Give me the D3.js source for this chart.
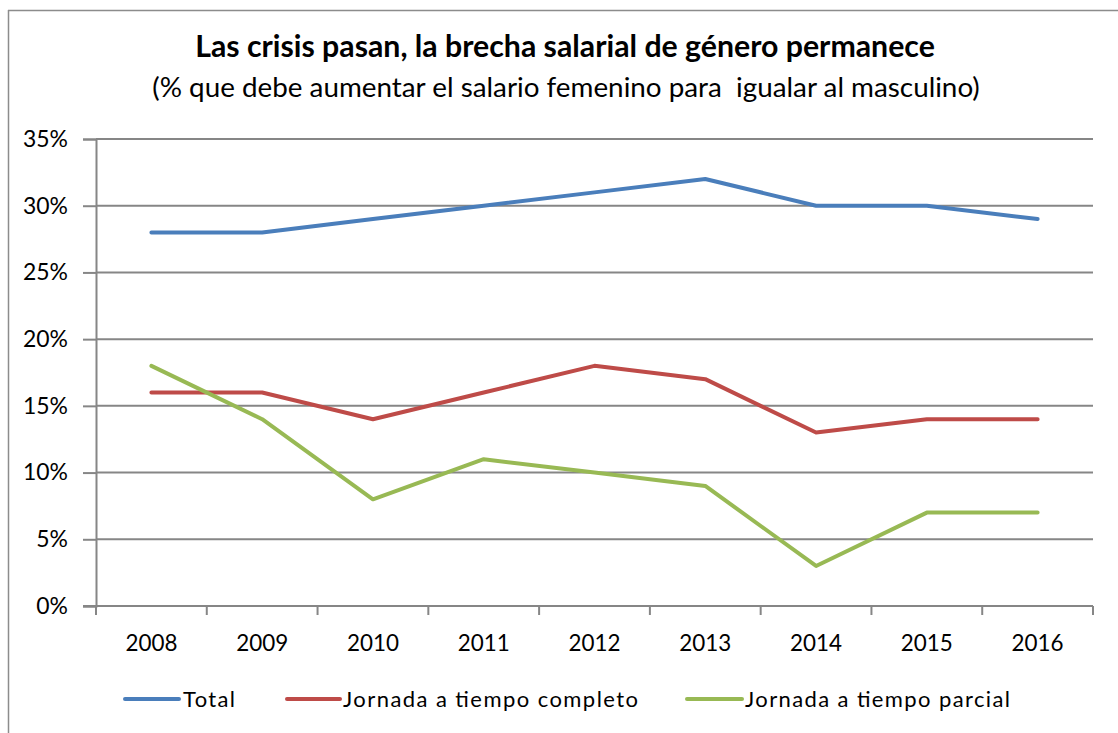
<!DOCTYPE html>
<html><head><meta charset="utf-8">
<script src="https://cdn.jsdelivr.net/npm/d3@7"></script>
<style>
html,body{margin:0;padding:0;background:#fff;}
svg text{font-family:Lato,"Open Sans","Liberation Sans",sans-serif;fill:#000;}
</style></head>
<body>
<svg id="chart" width="1118" height="733"></svg>
<script>
const years = ["2008","2009","2010","2011","2012","2013","2014","2015","2016"];
const total = [28,28,29,30,31,32,30,30,29];
const completo = [16,16,14,16,18,17,13,14,14];
const parcial = [18,14,8,11,10,9,3,7,7];
const yTicks = [0,5,10,15,20,25,30,35];
const seriesNames = ["Total","Jornada a tiempo completo","Jornada a tiempo parcial"];
const seriesColors = ["#4a7ebb","#be4b48","#98b954"];
const title = "Las crisis pasan, la brecha salarial de género permanece";
const subtitle = "(% que debe aumentar el salario femenino para  igualar al masculino)";

const svg = d3.select("#chart");
svg.append("line").attr("x1",8).attr("x2",1118).attr("y1",10.5).attr("y2",10.5).attr("stroke","#8c8c8c").attr("stroke-width",1.5);
svg.append("line").attr("x1",8.5).attr("x2",8.5).attr("y1",10).attr("y2",733).attr("stroke","#8c8c8c").attr("stroke-width",1.5);

const pLeft = 96, pRight = 1093, pTop = 139, pBottom = 606;
const x = d3.scaleBand().domain(years).range([pLeft,pRight]);
const y = d3.scaleLinear().domain([0,35]).range([pBottom,pTop]);

function fit(sel, w){ const l = sel.node().getComputedTextLength(); const fs = +sel.attr("font-size"); sel.attr("font-size", fs*w/l); }
const tt = svg.append("text").attr("x",565).attr("y",57).attr("text-anchor","middle")
  .attr("font-size",25).attr("font-weight","bold").text(title);
const st = svg.append("text").attr("x",566).attr("y",97).attr("text-anchor","middle")
  .attr("font-size",22).style("white-space","pre").text(subtitle);
fit(tt, 740); fit(st, 828);

const yAxis = d3.axisLeft(y).tickValues(yTicks).tickFormat(d=>d+"%").tickSize(13).tickPadding(15);
const gy = svg.append("g").attr("transform",`translate(${pLeft},0)`).call(yAxis);
gy.select(".domain").attr("stroke","#868686").attr("stroke-width",2);
gy.selectAll(".tick line").attr("stroke","#868686").attr("stroke-width",2);
gy.selectAll(".tick text").attr("font-size",22).attr("fill","#000").attr("font-family","Lato,sans-serif");
fit(gy.select(".tick:last-of-type text"), 45);
gy.selectAll(".tick text").attr("font-size", gy.select(".tick:last-of-type text").attr("font-size"));
svg.append("g").selectAll("line").data(yTicks.filter(d=>d>0)).join("line")
  .attr("x1",pLeft).attr("x2",pRight).attr("y1",d=>y(d)).attr("y2",d=>y(d))
  .attr("stroke","#868686").attr("stroke-width",2);

const gx = svg.append("g").attr("transform",`translate(0,${pBottom})`);
gx.append("line").attr("x1",pLeft-13).attr("x2",pRight).attr("y1",0).attr("y2",0).attr("stroke","#868686").attr("stroke-width",2);
const bounds = years.map(d=>x(d)).concat([pRight]);
gx.selectAll("line.tk").data(bounds).join("line").attr("class","tk")
  .attr("x1",d=>d).attr("x2",d=>d).attr("y1",0).attr("y2",9).attr("stroke","#868686").attr("stroke-width",2);
const xl = gx.selectAll("text").data(years).join("text")
  .attr("x",d=>x(d)+x.bandwidth()/2).attr("y",45).attr("text-anchor","middle").attr("font-size",22).text(d=>d);
fit(d3.select(xl.nodes()[0]), 52);
xl.attr("font-size", d3.select(xl.nodes()[0]).attr("font-size"));

const data = [total, completo, parcial];
const line = d3.line().x((d,i)=>x(years[i])+x.bandwidth()/2).y(d=>y(d));
svg.append("g").selectAll("path").data(data).join("path")
  .attr("d",line).attr("fill","none").attr("stroke",(d,i)=>seriesColors[i])
  .attr("stroke-width",4).attr("stroke-linejoin","round").attr("stroke-linecap","round");

const legLine = [[125,179],[287,340],[687,742]];
const legText = [[183,235],[343,638],[745,1010]];
const lg = svg.append("g").selectAll("g").data(seriesNames).join("g");
lg.append("line").attr("x1",(d,i)=>legLine[i][0]).attr("x2",(d,i)=>legLine[i][1]).attr("y1",699).attr("y2",699)
  .attr("stroke",(d,i)=>seriesColors[i]).attr("stroke-width",4).attr("stroke-linecap","round");
lg.append("text").attr("x",(d,i)=>legText[i][0]).attr("y",707).attr("font-size",22)
  .attr("textLength",(d,i)=>legText[i][1]-legText[i][0]).attr("lengthAdjust","spacing").text(d=>d);
</script>
</body></html>
